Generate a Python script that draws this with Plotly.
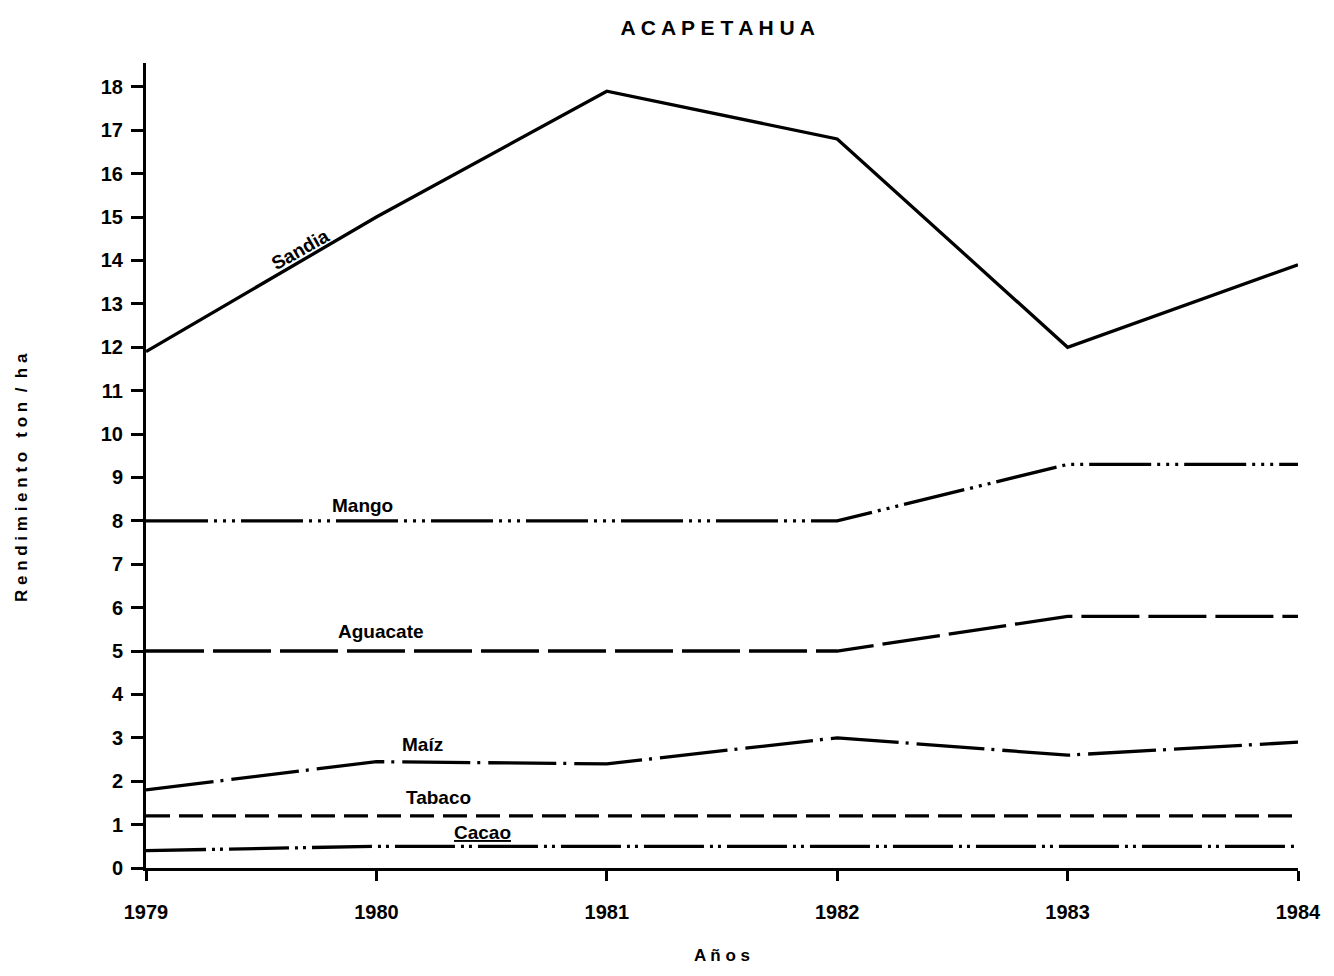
import plotly.graph_objects as go

years = [1979, 1980, 1981, 1982, 1983, 1984]
sandia = [11.9, 15.0, 17.9, 16.8, 12.0, 13.9]
mango = [8.0, 8.0, 8.0, 8.0, 9.3, 9.3]
aguacate = [5.0, 5.0, 5.0, 5.0, 5.8, 5.8]
maiz = [1.8, 2.45, 2.4, 3.0, 2.6, 2.9]
tabaco = [1.2, 1.2, 1.2, 1.2, 1.2, 1.2]
cacao = [0.4, 0.5, 0.5, 0.5, 0.5, 0.5]

y_ticks = list(range(0, 19))
x_ticks = years

series = [
    ("Sandía", sandia, "solid"),
    ("Mango", mango, "62px,6px,3px,6px,3px,6px,3px,6px"),
    ("Aguacate", aguacate, "58px,9px"),
    ("Maíz", maiz, "68px,7px,3px,8px"),
    ("Tabaco", tabaco, "24px,9px"),
    ("Cacao", cacao, "60px,6px,3px,5px,3px,6px"),
]

# label positions (data coords) and angles
labels = [
    ("Sandia", 1979.67, 14.25, -29.5),
    ("Mango", 1979.94, 8.35, 0),
    ("Aguacate", 1980.02, 5.45, 0),
    ("Maíz", 1980.20, 2.85, 0),
    ("Tabaco", 1980.27, 1.62, 0),
    ("<u>Cacao</u>", 1980.46, 0.82, 0),
]

FONT = "Liberation Sans"

fig = go.Figure()
for name, vals, dash in series:
    fig.add_trace(go.Scatter(
        x=years, y=vals, mode="lines", name=name,
        line=dict(color="black", width=3.3, dash=dash),
        cliponaxis=False, showlegend=False,
    ))

for text, x, y, ang in labels:
    fig.add_annotation(
        x=x, y=y, xref="x", yref="y", text=f"<b>{text}</b>",
        showarrow=False, textangle=ang,
        font=dict(family=FONT, size=19, color="black"),
    )

# y-axis title placed as annotation to match reference position
fig.add_annotation(
    x=-0.1076, y=0.4845, xref="paper", yref="paper",
    text="<b>R e n d i m i e n t o   t o n  /  h a</b>",
    showarrow=False, textangle=-90, xanchor="center", yanchor="middle",
    font=dict(family=FONT, size=17, color="black"),
)

fig.update_layout(
    width=1334, height=976,
    margin=dict(l=146, r=36, t=63, b=108),
    paper_bgcolor="white", plot_bgcolor="white",
    title=dict(
        text="<b>A C A P E T A H U A</b>",
        x=0.538, xanchor="center", y=0.972, yanchor="middle",
        font=dict(family=FONT, size=21, color="black"),
    ),
    font=dict(family=FONT, color="black"),
)

fig.update_xaxes(
    range=[1979, 1984], tickvals=x_ticks, ticktext=[f"<b>{v}</b>" for v in x_ticks],
    showgrid=False, zeroline=False, showline=True, linecolor="black", linewidth=3,
    ticks="outside", ticklen=10, tickwidth=3, tickcolor="black",
    ticklabelstandoff=14,
    tickfont=dict(family=FONT, size=20, color="black"),
    title=dict(text="<b>A ñ o s</b>", font=dict(family=FONT, size=17, color="black"), standoff=28),
)
fig.update_yaxes(
    range=[0, 18.55], tickvals=y_ticks, ticktext=[f"<b>{v}</b>" for v in y_ticks],
    showgrid=False, zeroline=False, showline=True, linecolor="black", linewidth=3,
    ticks="outside", ticklen=12, tickwidth=3, tickcolor="black",
    ticklabelstandoff=4,
    tickfont=dict(family=FONT, size=20, color="black"),
)

fig.write_html("out.html", config={"displayModeBar": False},
               post_script="document.body.style.margin='0';")
